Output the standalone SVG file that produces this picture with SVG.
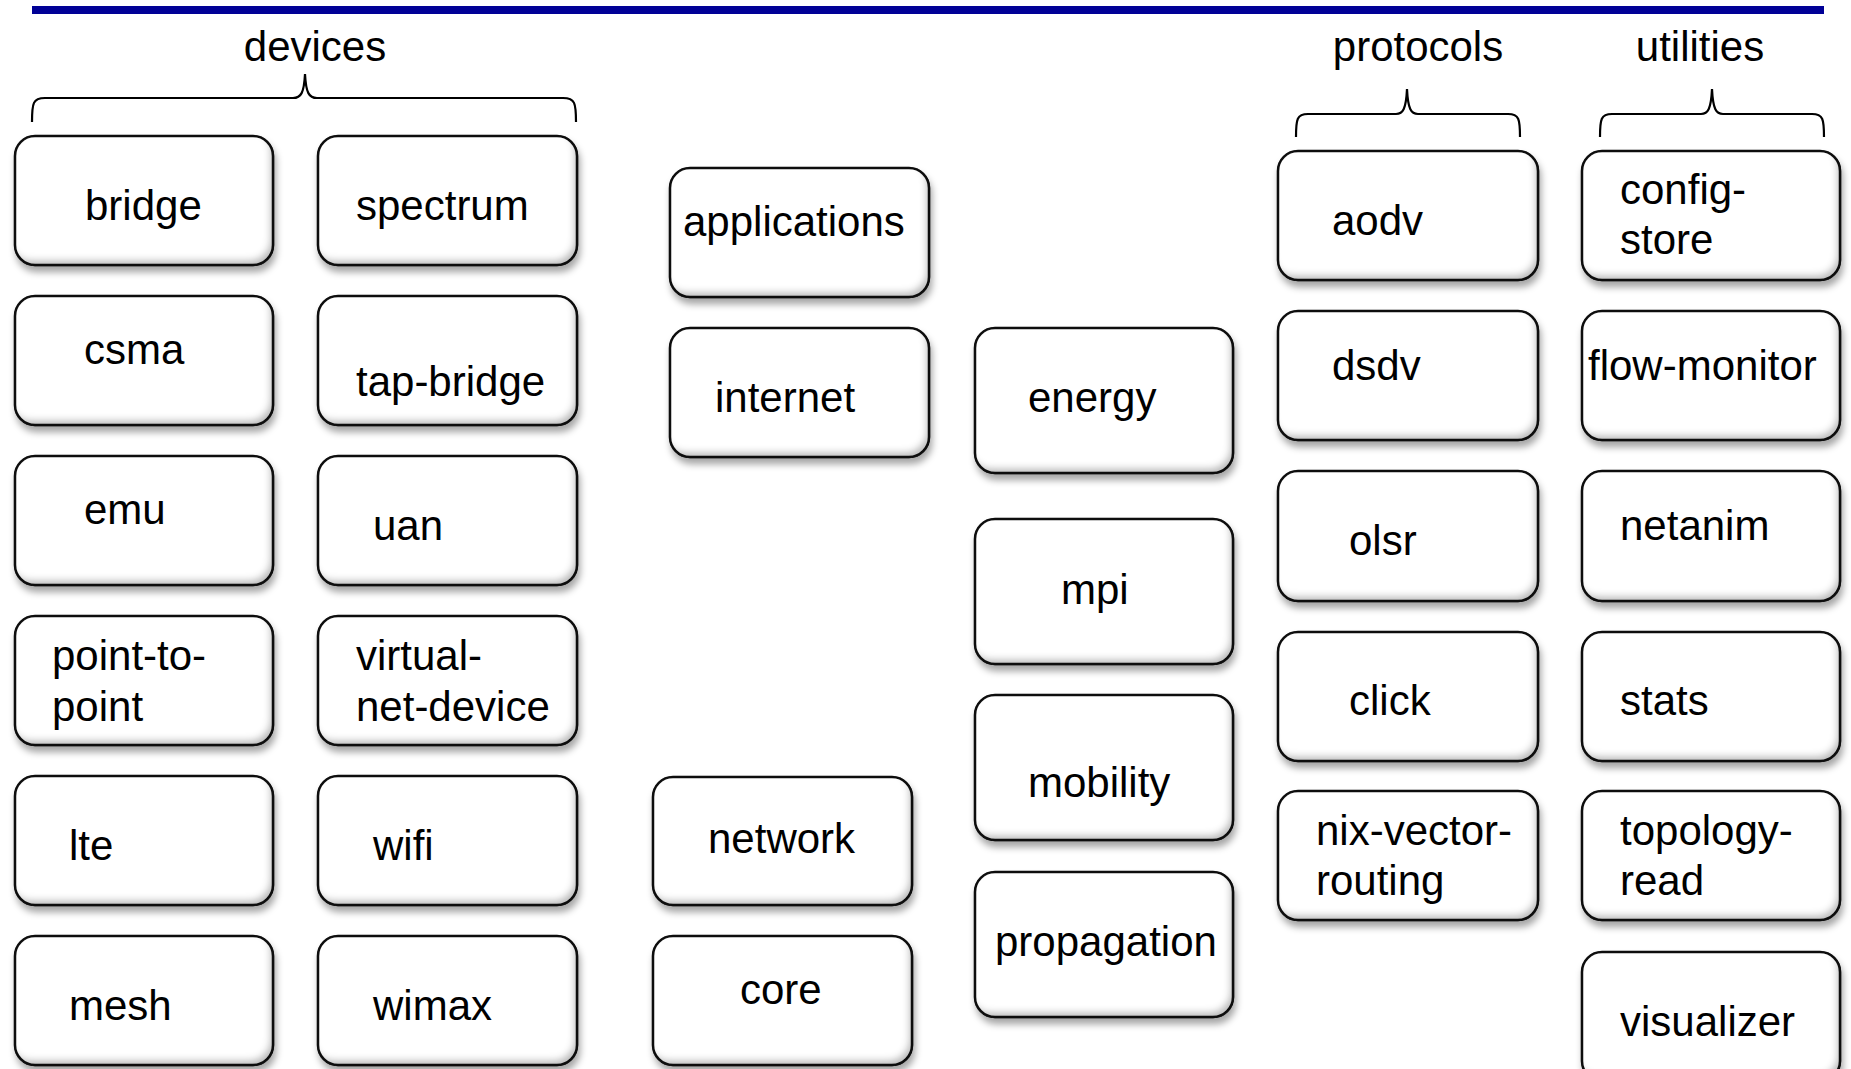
<svg xmlns="http://www.w3.org/2000/svg" width="1851" height="1069" viewBox="0 0 1851 1069">
  <defs>
    <style>
      .box { fill: #ffffff; stroke: #141414; stroke-width: 2.5; filter: url(#bevel); }
      .lbl { font-family: "Liberation Sans", Arial, sans-serif; font-size: 42px; fill: #000000; }
      .head { font-family: "Liberation Sans", Arial, sans-serif; font-size: 42px; fill: #000000; text-anchor: middle; }
      .brace { fill: none; stroke: #000000; stroke-width: 2.2; }
    </style>
    <!-- soft drop shadow plus an inner shade along the lower and right edges -->
    <filter id="bevel" x="-10%" y="-15%" width="125%" height="135%">
      <feGaussianBlur in="SourceAlpha" stdDeviation="3.5" result="ib"/>
      <feOffset in="ib" dx="-4" dy="-6" result="io"/>
      <feComposite in="SourceAlpha" in2="io" operator="out" result="inner"/>
      <feFlood flood-color="#000000" flood-opacity="0.5"/>
      <feComposite in2="inner" operator="in" result="innerShade"/>
      <feGaussianBlur in="SourceAlpha" stdDeviation="3.5" result="ob"/>
      <feOffset in="ob" dx="2" dy="6" result="oo"/>
      <feFlood flood-color="#000000" flood-opacity="0.35"/>
      <feComposite in2="oo" operator="in" result="shadow"/>
      <feMerge>
        <feMergeNode in="shadow"/>
        <feMergeNode in="SourceGraphic"/>
        <feMergeNode in="innerShade"/>
      </feMerge>
    </filter>
  </defs>

  <rect width="1851" height="1069" fill="#ffffff"/>

  <!-- title rule -->
  <rect x="32" y="6" width="1792" height="8" fill="#000096"/>

  <!-- group headings -->
  <g id="headings">
    <text class="head" x="315" y="61">devices</text>
    <text class="head" x="1418" y="61">protocols</text>
    <text class="head" x="1700" y="61">utilities</text>
  </g>

  <!-- braces under the headings -->
  <g id="brackets">
    <path class="brace" d="M32,122 C32,103 33,98 45,98 L293,98 C301,98 304,93 305,74 C306,93 309,98 317,98 L563,98 C575,98 576,103 576,122"/>
    <path class="brace" d="M1296,137 C1296,119 1297,114 1308,114 L1396,114 C1403,114 1406,109 1407,89 C1408,109 1411,114 1418,114 L1508,114 C1519,114 1520,119 1520,137"/>
    <path class="brace" d="M1600,137 C1600,119 1601,114 1612,114 L1701,114 C1708,114 1711,109 1712,89 C1713,109 1716,114 1723,114 L1812,114 C1823,114 1824,119 1824,137"/>
  </g>

  <!-- devices, left column -->
  <g id="bridge"><rect class="box" x="15" y="136" width="258" height="129" rx="20"/><text class="lbl" x="85" y="220">bridge</text></g>
  <g id="csma"><rect class="box" x="15" y="296" width="258" height="129" rx="20"/><text class="lbl" x="84" y="364">csma</text></g>
  <g id="emu"><rect class="box" x="15" y="456" width="258" height="129" rx="20"/><text class="lbl" x="84" y="524">emu</text></g>
  <g id="point-to-point"><rect class="box" x="15" y="616" width="258" height="129" rx="20"/><text class="lbl" x="52" y="670">point-to-</text><text class="lbl" x="52" y="721">point</text></g>
  <g id="lte"><rect class="box" x="15" y="776" width="258" height="129" rx="20"/><text class="lbl" x="69" y="860">lte</text></g>
  <g id="mesh"><rect class="box" x="15" y="936" width="258" height="129" rx="20"/><text class="lbl" x="69" y="1020">mesh</text></g>

  <!-- devices, right column -->
  <g id="spectrum"><rect class="box" x="318" y="136" width="259" height="129" rx="20"/><text class="lbl" x="356" y="220">spectrum</text></g>
  <g id="tap-bridge"><rect class="box" x="318" y="296" width="259" height="129" rx="20"/><text class="lbl" x="356" y="396">tap-bridge</text></g>
  <g id="uan"><rect class="box" x="318" y="456" width="259" height="129" rx="20"/><text class="lbl" x="373" y="540">uan</text></g>
  <g id="virtual-net-device"><rect class="box" x="318" y="616" width="259" height="129" rx="20"/><text class="lbl" x="356" y="670">virtual-</text><text class="lbl" x="356" y="721">net-device</text></g>
  <g id="wifi"><rect class="box" x="318" y="776" width="259" height="129" rx="20"/><text class="lbl" x="373" y="860">wifi</text></g>
  <g id="wimax"><rect class="box" x="318" y="936" width="259" height="129" rx="20"/><text class="lbl" x="373" y="1020">wimax</text></g>

  <!-- core stack -->
  <g id="applications"><rect class="box" x="670" y="168" width="259" height="129" rx="20"/><text class="lbl" x="683" y="236">applications</text></g>
  <g id="internet"><rect class="box" x="670" y="328" width="259" height="129" rx="20"/><text class="lbl" x="715" y="412">internet</text></g>
  <g id="network"><rect class="box" x="653" y="777" width="259" height="128" rx="20"/><text class="lbl" x="708" y="853">network</text></g>
  <g id="core"><rect class="box" x="653" y="936" width="259" height="129" rx="20"/><text class="lbl" x="740" y="1004">core</text></g>

  <!-- support modules -->
  <g id="energy"><rect class="box" x="975" y="328" width="258" height="145" rx="20"/><text class="lbl" x="1028" y="412">energy</text></g>
  <g id="mpi"><rect class="box" x="975" y="519" width="258" height="145" rx="20"/><text class="lbl" x="1061" y="604">mpi</text></g>
  <g id="mobility"><rect class="box" x="975" y="695" width="258" height="145" rx="20"/><text class="lbl" x="1028" y="797">mobility</text></g>
  <g id="propagation"><rect class="box" x="975" y="872" width="258" height="145" rx="20"/><text class="lbl" x="995" y="956">propagation</text></g>

  <!-- protocols -->
  <g id="aodv"><rect class="box" x="1278" y="151" width="260" height="129" rx="20"/><text class="lbl" x="1332" y="235">aodv</text></g>
  <g id="dsdv"><rect class="box" x="1278" y="311" width="260" height="129" rx="20"/><text class="lbl" x="1332" y="380">dsdv</text></g>
  <g id="olsr"><rect class="box" x="1278" y="471" width="260" height="130" rx="20"/><text class="lbl" x="1349" y="555">olsr</text></g>
  <g id="click"><rect class="box" x="1278" y="632" width="260" height="129" rx="20"/><text class="lbl" x="1349" y="715">click</text></g>
  <g id="nix-vector-routing"><rect class="box" x="1278" y="791" width="260" height="129" rx="20"/><text class="lbl" x="1316" y="845">nix-vector-</text><text class="lbl" x="1316" y="895">routing</text></g>

  <!-- utilities -->
  <g id="config-store"><rect class="box" x="1582" y="151" width="258" height="129" rx="20"/><text class="lbl" x="1620" y="204">config-</text><text class="lbl" x="1620" y="254">store</text></g>
  <g id="flow-monitor"><rect class="box" x="1582" y="311" width="258" height="129" rx="20"/><text class="lbl" x="1588" y="380">flow-monitor</text></g>
  <g id="netanim"><rect class="box" x="1582" y="471" width="258" height="130" rx="20"/><text class="lbl" x="1620" y="540">netanim</text></g>
  <g id="stats"><rect class="box" x="1582" y="632" width="258" height="129" rx="20"/><text class="lbl" x="1620" y="715">stats</text></g>
  <g id="topology-read"><rect class="box" x="1582" y="791" width="258" height="129" rx="20"/><text class="lbl" x="1620" y="845">topology-</text><text class="lbl" x="1620" y="895">read</text></g>
  <g id="visualizer"><rect class="box" x="1582" y="952" width="258" height="129" rx="20"/><text class="lbl" x="1620" y="1036">visualizer</text></g>
</svg>
